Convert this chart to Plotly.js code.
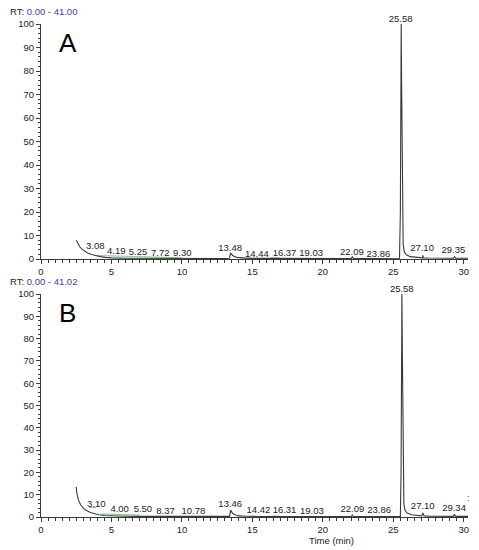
<!DOCTYPE html>
<html>
<head>
<meta charset="utf-8">
<script src="https://cdn.plot.ly/plotly-3.0.1.min.js"></script>
<style>html,body{margin:0;padding:0;background:#fff;}#chart{width:479px;height:550px;}</style>
</head>
<body>
<div id="chart"></div>
<script>
// ---- Panel A chromatogram ----
const timeA = [2.5, 2.6, 2.75, 2.9, 3.1, 3.3, 3.6, 3.9, 4.2, 4.6, 5.0, 6.0, 7.0, 8.0, 9.0, 10.0, 11.0, 12.0, 13.0, 13.38, 13.45, 13.55, 13.7, 13.9, 14.2, 14.6, 15.5, 17.0, 19.0, 21.0, 22.02, 22.09, 22.16, 23.0, 25.0, 25.44, 25.5, 25.53, 25.56, 25.59, 25.64, 25.7, 25.78, 25.93, 26.2, 26.6, 27.0, 27.07, 27.1, 27.13, 27.5, 28.5, 29.28, 29.35, 29.42, 30.3];
const intA = [8.0, 6.6, 5.2, 4.2, 3.3, 2.6, 1.9, 1.4, 1.0, 0.7, 0.5, 0.35, 0.3, 0.25, 0.22, 0.2, 0.2, 0.2, 0.2, 0.3, 2.6, 1.8, 1.1, 0.7, 0.45, 0.3, 0.25, 0.2, 0.2, 0.2, 0.2, 0.9, 0.2, 0.2, 0.2, 0.3, 20, 80, 100, 75, 20, 6, 3, 1.8, 1.0, 0.7, 0.5, 0.5, 1.6, 0.5, 0.4, 0.3, 0.3, 1.1, 0.3, 0.3];
const greenTimeA = [4.0, 6.0, 8.0, 10.0, null, 14.1, 15.0, null, 16.3, 17.0];
const greenIntA = [1.5, 1.2, 0.8, 0.5, null, 0.5, 0.4, null, 0.5, 0.4];
const peakTextA = ["3.08", "4.19", "5.25", "7.72", "9.30", "13.48", "14.44", "16.37", "19.03", "22.09", "23.86", "25.58", "27.10", "29.35"];
const peakLabelXA = [3.85, 5.34, 6.88, 8.46, 10.02, 13.42, 15.32, 17.28, 19.17, 22.06, 23.94, 25.52, 27.04, 29.26];
const peakLabelYA = [5.1, 3.0, 2.6, 2.3, 2.1, 4.3, 2.0, 2.1, 2.1, 2.85, 1.9, 100, 4.3, 3.4];

// ---- Panel B chromatogram ----
const timeB = [2.5, 2.55, 2.65, 2.8, 3.0, 3.2, 3.5, 3.8, 4.1, 4.5, 5.0, 6.0, 7.0, 8.0, 9.0, 10.0, 11.0, 12.0, 13.0, 13.38, 13.46, 13.55, 13.7, 13.9, 14.2, 14.6, 15.5, 17.0, 19.0, 21.0, 22.02, 22.09, 22.16, 23.0, 25.0, 25.5, 25.55, 25.58, 25.61, 25.64, 25.69, 25.75, 25.83, 25.98, 26.3, 26.7, 27.02, 27.1, 27.18, 27.5, 28.5, 29.27, 29.34, 29.41, 30.3];
const intB = [13.5, 10.5, 7.8, 5.6, 4.0, 3.0, 2.0, 1.4, 1.0, 0.7, 0.5, 0.35, 0.3, 0.25, 0.22, 0.2, 0.2, 0.2, 0.2, 0.3, 3.1, 2.0, 1.2, 0.7, 0.45, 0.3, 0.25, 0.2, 0.2, 0.2, 0.2, 0.9, 0.2, 0.2, 0.2, 0.3, 20, 80, 100, 75, 20, 6, 3, 1.8, 1.0, 0.7, 0.5, 1.8, 0.5, 0.4, 0.3, 0.3, 1.2, 0.3, 0.3];
const greenTimeB = [3.4, 3.9, null, 4.3, 5.5, 7.0, null, 13.9, 14.5, null, 16.4, 16.9];
const greenIntB = [4.3, 4.3, null, 1.4, 1.1, 0.8, null, 0.4, 0.4, null, 0.4, 0.4];
const peakTextB = ["3.10", "4.00", "5.50", "8.37", "10.78", "13.46", "14.42", "16.31", "19.03", "22.09", "23.86", "25.58", "27.10", "29.34"];
const peakLabelXB = [3.92, 5.58, 7.23, 8.84, 10.82, 13.43, 15.43, 17.28, 19.22, 22.1, 23.99, 25.6, 27.09, 29.31];
const peakLabelYB = [5.4, 3.5, 3.1, 2.6, 2.4, 5.4, 2.8, 2.8, 2.2, 3.5, 2.7, 100, 4.6, 3.7];

const xTickVals = [0, 5, 10, 15, 20, 25, 30];
const yTickVals = [0, 10, 20, 30, 40, 50, 60, 70, 80, 90, 100];

const FONT = "Liberation Sans, Arial, sans-serif";
const lineCol = "#3a3a3a";
const greenCol = "#93c993";

function chromTrace(x, y, xa, ya) {
  return {x: x, y: y, xaxis: xa, yaxis: ya, type: "scatter", mode: "lines",
    line: {color: lineCol, width: 1.1}, cliponaxis: false, hoverinfo: "skip", showlegend: false};
}
function greenTrace(x, y, xa, ya) {
  return {x: x, y: y, xaxis: xa, yaxis: ya, type: "scatter", mode: "lines",
    line: {color: greenCol, width: 1.2}, connectgaps: false, cliponaxis: false, hoverinfo: "skip", showlegend: false};
}
function labelTrace(x, y, t, xa, ya) {
  // the apex label (at full scale) sits above its point, the others are centred on theirs
  const pos = y.map(v => v >= 100 ? "top center" : "middle center");
  return {x: x, y: y, text: t, xaxis: xa, yaxis: ya, type: "scatter", mode: "text",
    textposition: pos, textfont: {family: FONT, size: 9.5, color: "#222"},
    cliponaxis: false, hoverinfo: "skip", showlegend: false};
}

const data = [
  greenTrace(greenTimeA, greenIntA, "x", "y"),
  chromTrace(timeA, intA, "x", "y"),
  labelTrace(peakLabelXA, peakLabelYA, peakTextA, "x", "y"),
  greenTrace(greenTimeB, greenIntB, "x2", "y2"),
  chromTrace(timeB, intB, "x2", "y2"),
  labelTrace(peakLabelXB, peakLabelYB, peakTextB, "x2", "y2")
];

function xAxis(anchor) {
  return {anchor: anchor, range: [0, 30.3], domain: [0, 1], showgrid: false, zeroline: false,
    showline: true, linecolor: lineCol, linewidth: 1, ticks: "outside", ticklen: 4, tickwidth: 1, tickcolor: lineCol,
    tickvals: xTickVals, tickfont: {family: FONT, size: 9.5, color: "#222"},
    minor: {dtick: 0.5, tick0: 0, ticks: "outside", ticklen: 2.5, tickwidth: 1, tickcolor: lineCol, showgrid: false},
    fixedrange: true};
}
function yAxis(anchor, dom) {
  return {anchor: anchor, range: [0, 100], domain: dom, showgrid: false, zeroline: false,
    showline: true, linecolor: lineCol, linewidth: 1, ticks: "outside", ticklen: 4, tickwidth: 1, tickcolor: lineCol,
    tickvals: yTickVals, tickfont: {family: FONT, size: 9.5, color: "#222"}, ticklabelstandoff: 0,
    minor: {dtick: 2, tick0: 0, ticks: "outside", ticklen: 2.5, tickwidth: 1, tickcolor: lineCol, showgrid: false},
    fixedrange: true};
}

const rtSpan = (v) => "RT: <span style='color:#3d3d9e'>" + v + "</span>";

const layout = {
  width: 479, height: 550,
  margin: {l: 41, r: 11, t: 0, b: 0},
  paper_bgcolor: "#fff", plot_bgcolor: "#fff",
  xaxis: xAxis("y"),
  yaxis: yAxis("x", [1 - 259/550, 1 - 24/550]),
  xaxis2: xAxis("y2"),
  yaxis2: yAxis("x2", [1 - 517/550, 1 - 294/550]),
  annotations: [
    {xref: "paper", yref: "paper", x: (8 - 41)/427, y: 1 - 11/550, xanchor: "left", yanchor: "middle",
     text: rtSpan("0.00 - 41.00"), showarrow: false, font: {family: FONT, size: 9.5, color: "#222"}},
    {xref: "paper", yref: "paper", x: (8 - 41)/427, y: 1 - 281/550, xanchor: "left", yanchor: "middle",
     text: rtSpan("0.00 - 41.02"), showarrow: false, font: {family: FONT, size: 9.5, color: "#222"}},
    {xref: "paper", yref: "paper", x: (68 - 41)/427, y: 1 - 43/550, xanchor: "center", yanchor: "middle",
     text: "A", showarrow: false, font: {family: FONT, size: 26, color: "#000"}},
    {xref: "paper", yref: "paper", x: (67 - 41)/427, y: 1 - 313/550, xanchor: "center", yanchor: "middle",
     text: "B", showarrow: false, font: {family: FONT, size: 26, color: "#000"}},
    {xref: "paper", yref: "paper", x: (468 - 41)/427, y: 1 - 498/550, xanchor: "center", yanchor: "middle",
     text: ":", showarrow: false, font: {family: FONT, size: 9.5, color: "#444"}},
    {xref: "paper", yref: "paper", x: (331 - 41)/427, y: 1 - 533/550, xanchor: "center", yanchor: "top",
     text: "Time (min)", showarrow: false, font: {family: FONT, size: 9.5, color: "#222"}}
  ]
};

Plotly.newPlot("chart", data, layout, {displayModeBar: false, staticPlot: true});
</script>
</body>
</html>
